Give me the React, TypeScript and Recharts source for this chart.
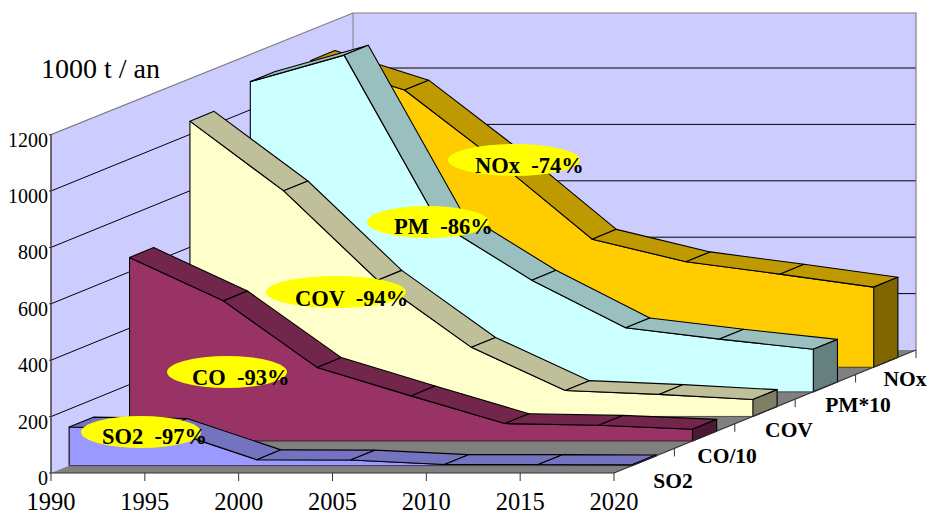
import { Area, ComposedChart, XAxis, YAxis } from 'recharts';

const years = [1990, 1995, 2000, 2005, 2010, 2015, 2020];
const so2Values = [137, 132, 21, 20, 4, 4, 3];
const coValues = [651, 497, 261, 160, 62, 56, 42];
const covValues = [1047, 800, 483, 245, 92, 78, 60];
const pmValues = [1100, 1194, 602, 396, 227, 187, 151];
const noxValues = [1088, 983, 728, 454, 374, 330, 284];

const seriesNames = ['SO2', 'CO/10', 'COV', 'PM*10', 'NOx'];
const seriesKeys = ['so2', 'co', 'cov', 'pm', 'nox'];
const frontColors = ['#9999FF', '#993366', '#FFFFCC', '#CCFFFF', '#FFCC00'];
const topColors = ['#7373BF', '#73264C', '#BFBF99', '#99BFBF', '#BF9900'];
const sideColors = ['#4C4C7F', '#4C1933', '#7F7F66', '#667F7F', '#7F6600'];

const yTicks = [0, 200, 400, 600, 800, 1000, 1200];
const xTicks = [1990, 1995, 2000, 2005, 2010, 2015, 2020];
const reductionLabels = ['SO2  -97%', 'CO  -93%', 'COV  -94%', 'PM  -86%', 'NOx  -74%'];

const chartData = years.map((year, i) => ({
  year,
  so2: so2Values[i],
  co: coValues[i],
  cov: covValues[i],
  pm: pmValues[i],
  nox: noxValues[i],
}));

const W = 929;
const H = 514;
// plot box of the chart, the front axes and the back wall sit on its edges
const LEFT = 51;
const RIGHT = 916;
const TOP = 13;
const BOTTOM = 473;
const FRONT_W = 563;
const UNIT = 0.282;
const DEPTH_X = 302;
const DEPTH_Y = 123;
const SLOT_X = DEPTH_X / 5;
const SLOT_Y = DEPTH_Y / 5;
const BAR_X = SLOT_X * 0.4;
const BAR_Y = SLOT_Y * 0.4;
const SERIF = '"Liberation Serif", "Times New Roman", serif';

const slotOffsetX = (slot: number) => SLOT_X * (slot + 0.3);
const slotOffsetY = (slot: number) => SLOT_Y * (slot + 0.3);
const yFront = (value: number) => BOTTOM - value * UNIT;

const layerStyle = { position: 'absolute', left: 0, top: 0 } as const;

const renderFaces = (slot: number) => (props: any) => {
  const { points, index } = props;
  const p = points[index];
  const next = points[index + 1];
  const base = BOTTOM - slotOffsetY(slot);
  return (
    <g key={`faces-${slot}-${index}`}>
      {next && (
        <polygon
          points={`${p.x},${p.y} ${next.x},${next.y} ${next.x + BAR_X},${next.y - BAR_Y} ${p.x + BAR_X},${p.y - BAR_Y}`}
          fill={topColors[slot]}
          stroke="#000"
          strokeWidth={1.1}
          strokeLinejoin="round"
        />
      )}
      {next && <line x1={p.x} y1={base} x2={next.x} y2={base} stroke="#000" strokeOpacity={0.6} />}
      {index === 0 && <line x1={p.x} y1={p.y} x2={p.x} y2={base} stroke="#000" strokeWidth={1.1} />}
      {!next && (
        <polygon
          points={`${p.x},${p.y} ${p.x + BAR_X},${p.y - BAR_Y} ${p.x + BAR_X},${base - BAR_Y} ${p.x},${base}`}
          fill={sideColors[slot]}
          stroke="#000"
          strokeWidth={1.1}
        />
      )}
    </g>
  );
};

const Walls = () => (
  <g>
    <polygon
      points={`${LEFT},${yFront(1200)} ${LEFT + DEPTH_X},${TOP} ${LEFT + DEPTH_X},${BOTTOM - DEPTH_Y} ${LEFT},${BOTTOM}`}
      fill="#CCCCFF"
    />
    <rect x={LEFT + DEPTH_X} y={TOP} width={RIGHT - LEFT - DEPTH_X} height={BOTTOM - DEPTH_Y - TOP} fill="#CCCCFF" />
    <polygon
      points={`${LEFT},${BOTTOM} ${LEFT + FRONT_W},${BOTTOM} ${RIGHT},${BOTTOM - DEPTH_Y} ${LEFT + DEPTH_X},${BOTTOM - DEPTH_Y}`}
      fill="#808080"
    />
    {yTicks.slice(1, -1).map((v) => (
      <g key={v}>
        <line x1={LEFT} y1={yFront(v)} x2={LEFT + DEPTH_X} y2={yFront(v) - DEPTH_Y} stroke="#000" />
        <line x1={LEFT + DEPTH_X} y1={yFront(v) - DEPTH_Y} x2={RIGHT} y2={yFront(v) - DEPTH_Y} stroke="#000" />
      </g>
    ))}
    <polyline
      points={`${LEFT},${yFront(1200)} ${LEFT + DEPTH_X},${TOP} ${RIGHT},${TOP} ${RIGHT},${BOTTOM - DEPTH_Y}`}
      fill="none"
      stroke="#808080"
      strokeWidth={1.2}
    />
    <line x1={LEFT + DEPTH_X} y1={TOP} x2={LEFT + DEPTH_X} y2={BOTTOM - DEPTH_Y} stroke="#808080" />
    <line x1={LEFT} y1={yFront(1200)} x2={LEFT} y2={BOTTOM} stroke="#404040" strokeWidth={1.5} />
    <line x1={LEFT} y1={BOTTOM} x2={LEFT + FRONT_W} y2={BOTTOM} stroke="#333" strokeWidth={1.2} />
    <text x={41} y={78} fontFamily={SERIF} fontSize={28} fill="#000">
      1000 t / an
    </text>
  </g>
);

const depthLabelAt = [
  [673, 488],
  [727, 463],
  [789, 437],
  [858, 412],
  [905, 386],
];
const ellipseAt = [
  [141, 432, 60],
  [227, 372, 60],
  [336, 292, 70],
  [428, 222, 61],
  [514, 160, 66],
];
const labelTextAt = [
  [102, 444],
  [192, 385],
  [295, 306],
  [394, 234],
  [475, 173],
];

const Overlay = () => (
  <svg width={W} height={H} style={{ ...layerStyle, pointerEvents: 'none' }}>
    <line x1={LEFT + FRONT_W} y1={BOTTOM} x2={RIGHT} y2={BOTTOM - DEPTH_Y} stroke="#333" strokeWidth={1.2} />
    {seriesNames.map((name, i) => {
      const tx = LEFT + FRONT_W + SLOT_X * (i + 1);
      const ty = BOTTOM - SLOT_Y * (i + 1);
      return (
        <g key={name}>
          <line x1={tx} y1={ty} x2={tx} y2={ty + 8} stroke="#333" />
          <text
            x={depthLabelAt[i][0]}
            y={depthLabelAt[i][1]}
            textAnchor="middle"
            fontFamily={SERIF}
            fontWeight="bold"
            fontSize={21.5}
            fill="#000"
          >
            {name}
          </text>
        </g>
      );
    })}
    {reductionLabels.map((label, i) => (
      <g key={label}>
        <ellipse cx={ellipseAt[i][0]} cy={ellipseAt[i][1]} rx={ellipseAt[i][2]} ry={16} fill="#FFFF00" />
        <text
          x={labelTextAt[i][0]}
          y={labelTextAt[i][1]}
          fontFamily={SERIF}
          fontWeight="bold"
          fontSize={22.5}
          fill="#000"
          style={{ whiteSpace: 'pre' }}
        >
          {label}
        </text>
      </g>
    ))}
  </svg>
);

const renderXTick = ({ x, y, payload }: any) => (
  <text x={x} y={y + 27} textAnchor="middle" fontFamily={SERIF} fontSize={24.5} fill="#000">
    {payload.value}
  </text>
);

const renderYTick = ({ x, y, payload }: any) => (
  <text x={x + 1} y={y + 12} textAnchor="end" fontFamily={SERIF} fontSize={20} fill="#000">
    {payload.value}
  </text>
);

const BaseChart = () => (
  <div style={layerStyle}>
    <ComposedChart
      width={W}
      height={H}
      data={chartData}
      margin={{ top: TOP, right: W - RIGHT, bottom: 0, left: 0 }}
    >
      <Walls />
      <XAxis
        type="number"
        dataKey="year"
        domain={[1990, 2020]}
        ticks={xTicks}
        height={H - BOTTOM}
        padding={{ left: 0, right: RIGHT - LEFT - FRONT_W }}
        tick={renderXTick}
        tickSize={8}
        axisLine={false}
        tickLine={{ stroke: '#333' }}
      />
      <YAxis
        type="number"
        dataKey="nox"
        domain={[0, 1200]}
        ticks={yTicks}
        width={LEFT}
        padding={{ top: BOTTOM - TOP - 1200 * UNIT, bottom: 0 }}
        tick={renderYTick}
        tickSize={2}
        axisLine={false}
        tickLine={{ stroke: '#333' }}
      />
    </ComposedChart>
  </div>
);

// one chart per series so each solid paints fully over the ones behind it
const SeriesChart = ({ slot }: { slot: number }) => (
  <div style={layerStyle}>
    <ComposedChart
      width={W}
      height={H}
      data={chartData}
      margin={{
        top: BOTTOM - slotOffsetY(slot) - 1200 * UNIT,
        right: W - LEFT - slotOffsetX(slot) - FRONT_W,
        bottom: H - BOTTOM + slotOffsetY(slot),
        left: LEFT + slotOffsetX(slot),
      }}
    >
      <XAxis hide type="number" dataKey="year" domain={[1990, 2020]} />
      <YAxis hide type="number" domain={[0, 1200]} />
      <Area
        type="linear"
        dataKey={seriesKeys[slot]}
        fill={frontColors[slot]}
        fillOpacity={1}
        stroke="#000"
        strokeWidth={1.1}
        dot={renderFaces(slot)}
        activeDot={false}
        isAnimationActive={false}
      />
    </ComposedChart>
  </div>
);

const App = () => (
  <div style={{ ...layerStyle, width: W, height: H, background: '#fff' }}>
    <BaseChart />
    {[4, 3, 2, 1, 0].map((slot) => (
      <SeriesChart key={slot} slot={slot} />
    ))}
    <Overlay />
  </div>
);

export default App;
